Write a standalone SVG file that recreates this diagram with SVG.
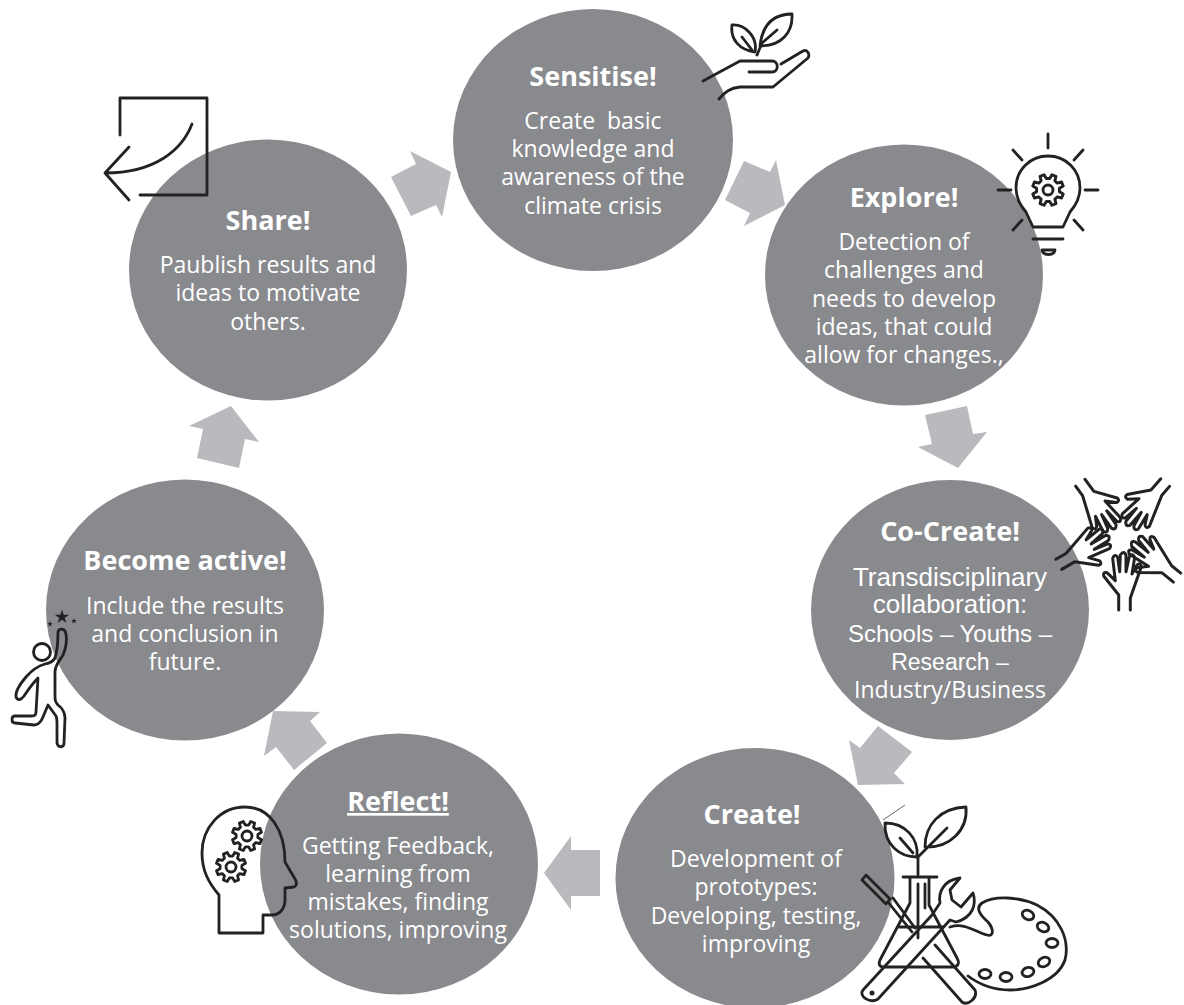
<svg xmlns="http://www.w3.org/2000/svg" width="1184" height="1005" viewBox="0 0 1184 1005">
<style>
.c{fill:#898a8e}
.a{fill:#b9babd}
text{fill:#fff;text-anchor:middle;font-family:"Open Sans","Noto Sans",sans-serif}
.t{font-size:27px;font-weight:700}
.b{font-size:23px}
.ar{font-family:"Liberation Sans",Arial,sans-serif;font-size:23px}
.i{fill:none;stroke:#222;stroke-width:2.800;stroke-linecap:round;stroke-linejoin:round}
.f{fill:#222;stroke:none}
</style>
<defs>
<path id="gear" d="M10.67,-2.66L14.85,-2.09L14.85,2.09L10.67,2.66L9.43,5.66L11.98,9.02L9.02,11.98L5.66,9.43L2.66,10.67L2.09,14.85L-2.09,14.85L-2.66,10.67L-5.66,9.43L-9.02,11.98L-11.98,9.02L-9.43,5.66L-10.67,2.66L-14.85,2.09L-14.85,-2.09L-10.67,-2.66L-9.43,-5.66L-11.98,-9.02L-9.02,-11.98L-5.66,-9.43L-2.66,-10.67L-2.09,-14.85L2.09,-14.85L2.66,-10.67L5.66,-9.43L9.02,-11.98L11.98,-9.02L9.43,-5.66Z"/>
<path id="hand" d="M-3.3,66L-3.3,51L-18.3,32Q-19.3,28 -15,28.7L-6.7,36.7L-9.3,14.3Q-7.3,9.3 -4.3,13.3L-2.3,27.7L-1.7,11Q1.7,6 4,11L4,27.7L7.3,12.7Q10.7,8.7 12.7,13.3L10,30L15,21Q18.3,17.7 19.3,22.7L10,49.3L8.3,54.3L8.3,66"/>
<path id="star" d="M0,-1L.225,-.309L.951,-.309L.363,.118L.588,.809L0,.382L-.588,.809L-.363,.118L-.951,-.309L-.225,-.309Z"/>
</defs>
<rect width="1184" height="1005" fill="#fff"/>
<g id="connectors">
<polygon class="a" points="451,172 410,151 416,164 391,177 411,216 436,205 442,217"/>
<polygon class="a" points="785,205 776,160 770,172 744,161 725,200 750,213 744,226"/>
<polygon class="a" points="958,468 987,432 973,434 967,406 925,415 932,444 918,447"/>
<polygon class="a" points="858,785 849,740 860,748 878,726 912,752 894,773 905,784"/>
<polygon class="a" points="544,873 571,836 571,850 600,850 600,896 571,896 571,910"/>
<polygon class="a" points="273,711 320,712 310,721 327,743 294,770 276,747 264,756"/>
<polygon class="a" points="231,406 259,442 245,439 239,468 197,458 203,429 189,426"/>
</g>
<g id="sensitise">
<ellipse class="c" cx="593" cy="140" rx="140" ry="131"/>
<text class="t" x="593" y="86">Sensitise!</text>
<text class="b" x="593" y="129" xml:space="preserve">Create  basic</text>
<text class="b" x="593" y="157">knowledge and</text>
<text class="b" x="593" y="185">awareness of the</text>
<text class="b" x="593" y="214">climate crisis</text>
<g class="i">
<path d="M755,52C740,50 730,40 732,25C745,24 758,37 755,52ZM742,37L752,50M760,46C762,28 770,14 792,14C793,32 782,46 760,46ZM777,30L762,43L757,55"/>
<path d="M703,81L740,61L772,61C779,61 779,72 772,72L749,72M781,64L803,51C808,49 810,55 808,58L773,87L740,87C730,88 725,92 719,99"/>
</g>
</g>
<g id="explore">
<ellipse class="c" cx="904" cy="275" rx="139" ry="130.500"/>
<text class="t" x="904" y="207">Explore!</text>
<text class="b" x="904" y="250">Detection of</text>
<text class="b" x="904" y="278">challenges and</text>
<text class="b" x="904" y="307">needs to develop</text>
<text class="b" x="904" y="335">ideas, that could</text>
<text class="b" x="904" y="363">allow for changes.,</text>
<g class="i">
<path d="M1048,134V148M1013,150L1022,160M1083,150L1074,160M998,190H1011M1085,190H1098M1013,230L1022,220M1083,230L1074,220"/>
<path d="M1033,227L1026,212C1019,204 1016,196 1016,188C1016,170 1030,156 1048,156C1066,156 1080,170 1080,188C1080,196 1077,204 1070,212L1063,227Z"/>
<path d="M1033,239H1063M1042,250H1055C1054,256 1043,256 1042,250Z"/>
<use href="#gear" transform="translate(1048,190) rotate(22.500) scale(1.050)"/>
<circle cx="1048" cy="190" r="5"/>
</g>
</g>
<g id="co-create">
<ellipse class="c" cx="950" cy="610" rx="139" ry="130"/>
<text class="t" x="950" y="541">Co-Create!</text>
<text class="ar" x="950" y="586" style="font-size:26px">Transdisciplinary</text>
<text class="ar" x="950" y="613" style="font-size:26px">collaboration:</text>
<text class="ar" x="950" y="642" style="font-size:24px">Schools – Youths –</text>
<text class="ar" x="950" y="670">Research –</text>
<text class="b" x="950" y="698">Industry/Business</text>
<g class="i" style="stroke-width:3">
<use href="#hand" transform="translate(1120,533) rotate(144) translate(0,-2)"/>
<use href="#hand" transform="translate(1118,533) rotate(-139) translate(0,3) scale(-1,1)"/>
<use href="#hand" transform="translate(1118,533) rotate(-51) translate(0,8)"/>
<use href="#hand" transform="translate(1118,533) rotate(60) translate(0,1) scale(-1,1)"/>
<use href="#hand" transform="translate(1122,533) translate(0,11)"/>
</g>
</g>
<g id="create">
<ellipse class="c" cx="755" cy="878" rx="139.500" ry="130"/>
<text class="t" x="752" y="824">Create!</text>
<text class="b" x="756" y="867">Development of</text>
<text class="b" x="756" y="895">prototypes:</text>
<text class="b" x="756" y="924">Developing, testing,</text>
<text class="b" x="756" y="952">improving</text>
<path d="M883,820L905,805" stroke="#666" stroke-width="1" fill="none"/>
<g class="i">
<path d="M917,857C900,857 884,845 885,823C905,823 919,838 917,857ZM900,838L913,853M925,847C925,825 940,808 966,807C968,830 950,848 925,847ZM947,828L918,857V875"/>
<path d="M903,877H937M910,878V903L880,960C878,965 880,967 884,967H953C958,967 960,963 957,958L929,905V878M899,927H943M918,884V938M925,884V908"/>
<path d="M862,880L866,875L890,899L886,904ZM888,902L912,932M893,898L915,928M923,958L962,1002C968,1006 978,998 975,990L935,945"/>
<path d="M863,990L932,915L940,903C938,892 944,880 960,878L950,890L952,900L961,907L973,893C977,905 972,918 956,922L950,920L878,999C870,1004 858,996 863,990Z"/>
<path d="M950,927C965,922 975,932 987,935C995,937 993,928 988,922C980,915 975,908 982,903C995,895 1020,897 1037,905C1060,917 1070,940 1065,960C1058,980 1030,990 1010,990C995,990 980,985 968,976"/>
<ellipse cx="1028" cy="915" rx="6" ry="4.500" transform="rotate(25 1028 915)"/>
<ellipse cx="1043" cy="927" rx="6" ry="4.500" transform="rotate(25 1043 927)"/>
<ellipse cx="1052" cy="943" rx="6" ry="4.500"/>
<ellipse cx="1044" cy="962" rx="6" ry="4.500" transform="rotate(-25 1044 962)"/>
<ellipse cx="1028" cy="972" rx="6" ry="4.500" transform="rotate(-15 1028 972)"/>
<ellipse cx="1006" cy="977" rx="6" ry="4.500"/>
<ellipse cx="985" cy="974" rx="6" ry="4.500"/>
</g>
<circle class="f" cx="872" cy="993" r="2.500"/>
</g>
<g id="reflect">
<ellipse class="c" cx="399" cy="864" rx="139" ry="130.500"/>
<text class="t" x="398" y="811" text-decoration="underline">Reflect!</text>
<text class="b" x="398" y="854">Getting Feedback,</text>
<text class="b" x="398" y="882">learning from</text>
<text class="b" x="398" y="910">mistakes, finding</text>
<text class="b" x="398" y="938">solutions, improving</text>
<g class="i">
<path d="M219,895L219,933L263,933L263,915L272,915C280,915 285,908 285,900L285,888L294,887C297,886 297,882 295,879L285,862C285,830 270,807 245,807C220,807 202,828 202,853C202,870 208,882 219,895"/>
<use href="#gear" transform="translate(247,836) rotate(22.500)"/>
<circle cx="247" cy="836" r="5"/>
<use href="#gear" transform="translate(231,867) rotate(22.500)"/>
<circle cx="231" cy="867" r="5"/>
</g>
</g>
<g id="become-active">
<ellipse class="c" cx="185" cy="610" rx="139" ry="130.500"/>
<text class="t" x="185" y="570">Become active!</text>
<text class="b" x="185" y="614">Include the results</text>
<text class="b" x="185" y="642">and conclusion in</text>
<text class="b" x="185" y="670">future.</text>
<g class="i">
<circle cx="42" cy="652" r="8.500"/>
<path d="M58,632C58,645 57,652 55,658C53,662 50,663 45,664C38,666 32,670 26,677C20,684 15,691 16,697C18,701 21,700 24,696C28,690 33,683 38,678L36,712C36,716 34,716 30,716L15,716C11,716 11,723 15,723L34,725C38,725 41,722 43,717L48,705L56,716C57,718 57,720 57,724L57,743C58,748 64,748 64,743L65,718C65,713 62,708 58,705C55,702 55,700 55,695L55,672C55,665 60,660 63,655C66,648 67,640 66,634C65,628 59,628 58,632Z"/>
</g>
<use class="f" href="#star" transform="translate(62,617) scale(7.500)"/>
<use class="f" href="#star" transform="translate(50,624) scale(3)"/>
<use class="f" href="#star" transform="translate(74,621) scale(3)"/>
</g>
<g id="share">
<ellipse class="c" cx="268" cy="270" rx="139" ry="130.500"/>
<text class="t" x="268" y="230">Share!</text>
<text class="b" x="268" y="273">Paublish results and</text>
<text class="b" x="268" y="301">ideas to motivate</text>
<text class="b" x="268" y="330">others.</text>
<g class="i">
<path d="M120,135V98H207V195H140M192,124C182,150 155,173 105,173M129,147L105,173L129,200"/>
</g>
</g>
</svg>
